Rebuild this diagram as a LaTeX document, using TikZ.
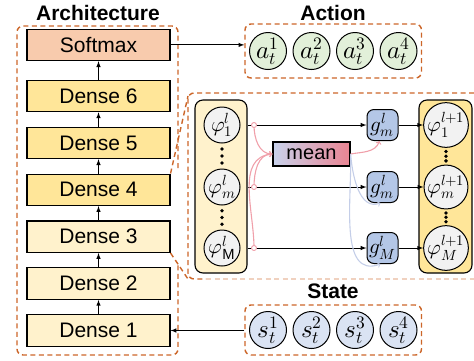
\documentclass[tikz,border=0pt]{standalone}
\usepackage{amsmath}
\usepackage{fontspec}
\usepackage{unicode-math}
\setmainfont{Liberation Sans}
\setmathfont{Latin Modern Math}
\usetikzlibrary{positioning,fit,calc}

\definecolor{dashorange}{RGB}{204,102,41}
\definecolor{softmaxfill}{RGB}{248,203,173}
\definecolor{densedark}{RGB}{255,230,153}
\definecolor{denselight}{RGB}{255,242,204}
\definecolor{actfill}{RGB}{226,240,217}
\definecolor{statefill}{RGB}{218,227,243}
\definecolor{phifill}{RGB}{242,242,242}
\definecolor{gfill}{RGB}{180,199,231}
\definecolor{meanblue}{RGB}{200,210,236}
\definecolor{meanred}{RGB}{234,132,146}
\definecolor{pinkline}{RGB}{240,160,170}
\definecolor{blueline}{RGB}{196,206,232}

\begin{document}
\begin{tikzpicture}[x=1pt,y=-1pt,
	every node/.style={inner sep=0pt},
	layer/.style={draw,line width=1.1pt,minimum width=143pt,minimum height=31.5pt,font=\fontsize{21}{24}\selectfont},
	title/.style={font=\fontsize{21}{24}\selectfont\bfseries},
	group/.style={draw=dashorange,dash pattern=on 5pt off 3.5pt,line width=1.4pt,rounded corners=6pt},
	zoomline/.style={draw=dashorange,dash pattern=on 5pt off 3.5pt,line width=1.4pt},
	token/.style={circle,draw,line width=1pt,minimum size=37pt,font=\fontsize{25}{28}\selectfont},
	feat/.style={circle,draw,line width=1pt,fill=phifill,minimum size=36pt,font=\fontsize{21}{24}\selectfont},
	gate/.style={draw,line width=1pt,fill=gfill,rounded corners=7pt,minimum size=31pt,font=\fontsize{21}{24}\selectfont},
	panel/.style={draw,line width=1.1pt,rounded corners=8pt,minimum height=173pt},
	flow/.style={-latex,line width=1pt},
	junc/.style={circle,draw=pinkline,fill=white,line width=0.9pt,minimum size=5pt},
	mix/.style={-to,line width=1.1pt}
	]
	\useasboundingbox (0,0) rectangle (474,360);

	\node[layer,fill=denselight] (dense1) at (98.5,330.5) {Dense 1};
	\node[layer,fill=denselight,above=14.3pt of dense1] (dense2) {Dense 2};
	\node[layer,fill=denselight,above=14.3pt of dense2] (dense3) {Dense 3};
	\node[layer,fill=densedark,above=14.3pt of dense3] (dense4) {Dense 4};
	\node[layer,fill=densedark,above=14.3pt of dense4] (dense5) {Dense 5};
	\node[layer,fill=densedark,above=14.3pt of dense5] (dense6) {Dense 6};
	\node[layer,fill=softmaxfill,above=18.5pt of dense6] (softmax) {Softmax};
	\foreach \a/\b in {dense1/dense2,dense2/dense3,dense3/dense4,dense4/dense5,dense5/dense6,dense6/softmax}
		\draw[flow] (\a) -- (\b);
	\node[title] (archtitle) at (98,13) {Architecture};
	\draw[zoomline,rounded corners=6pt] (178,168) |- (17,26) |- (178,355) -- (178,262);

	\node[token,fill=actfill] (a1) at (268,51) {$a_t^1$};
	\node[token,fill=actfill,right=5.5pt of a1] (a2) {$a_t^2$};
	\node[token,fill=actfill,right=5.5pt of a2] (a3) {$a_t^3$};
	\node[token,fill=actfill,right=5.5pt of a3] (a4) {$a_t^4$};
	\node[group,fit=(a1)(a4),inner xsep=4pt,inner ysep=8pt] (actbox) {};
	\node[title] (acttitle) at (333,13) {Action};
	\draw[flow] (softmax.east) -- (softmax.east -| actbox.west);

	\node[token,fill=statefill] (s1) at (268,330) {$s_t^1$};
	\node[token,fill=statefill,right=5.5pt of s1] (s2) {$s_t^2$};
	\node[token,fill=statefill,right=5.5pt of s2] (s3) {$s_t^3$};
	\node[token,fill=statefill,right=5.5pt of s3] (s4) {$s_t^4$};
	\node[group,fit=(s1)(s4),inner xsep=4pt,inner ysep=6pt] (statebox) {};
	\node[title] (statetitle) at (333,291) {State};
	\draw[flow] (dense1.east -| statebox.west) -- (dense1.east);

	\draw[zoomline,rounded corners=6pt] (474,93) -| (188,279) -- (206,279);
	\draw[zoomline,draw=dashorange!30] (206,279) -- (474,279);
	\draw[zoomline] (dense4.north east) -- (188,96);
	\draw[zoomline] (dense3.south east) -- (188,279);

	\node[panel,fill=denselight,minimum width=52pt] (inpanel) at (221,186.5) {};
	\node[panel,fill=densedark,minimum width=53pt] (outpanel) at (445.5,186.5) {};
	\node[feat] (phi1) at (222,125) {$\varphi_1^l$};
	\node[feat] (phim) at (222,187) {$\varphi_m^l$};
	\node[feat] (phiM) at (222,248) {$\varphi_{\mathrm{M}}^l$};
	\node[feat] (next1) at (446,125) {$\varphi_1^{l+1}$};
	\node[feat] (nextm) at (446,187) {$\varphi_m^{l+1}$};
	\node[feat] (nextM) at (446,248) {$\varphi_M^{l+1}$};
	\foreach \u/\v in {phi1/phim,phim/phiM,next1/nextm,nextm/nextM}
		\foreach \t in {0.22,0.5,0.78}
			\fill ($(\u.south)!\t!(\v.north)$) circle (1.9pt);

	\node[gate] (g1) at (382.5,125) {$g_m^l$};
	\node[gate] (gm) at (382.5,187) {$g_m^l$};
	\node[gate] (gM) at (382.5,248) {$g_M^l$};
	\node[draw,line width=1.1pt,left color=meanblue,right color=meanred,minimum width=77pt,minimum height=24pt,font=\fontsize{20}{22}\selectfont] (mean) at (311.5,154) {mean};

	\foreach \p/\g in {phi1/g1,phim/gm,phiM/gM}
		\draw[flow] (inpanel.east |- \p) -- (\g);
	\foreach \g/\n in {g1/next1,gm/nextm,gM/nextM}
		\draw[flow] (\g) -- (\n.west);

	\draw[mix,pinkline] (254,125) to[out=-90,in=180] (mean.west);
	\draw[mix,pinkline] (254,187) to[out=90,in=180] (mean.west);
	\draw[mix,pinkline] (254,248) to[out=90,in=185] (mean.west);
	\draw[mix,pinkline] (mean.east) to[out=10,in=-110] ([xshift=-3pt]g1.south);
	\draw[mix,blueline] (mean.east) to[out=-85,in=-160] ([xshift=-2pt]gm.south);
	\draw[mix,blueline] (mean.east) to[out=-88,in=-160] ([xshift=-2pt]gM.south);
	\node[junc] (j1) at (254,125) {};
	\node[junc] (jm) at (254,187) {};
	\node[junc] (jM) at (254,248) {};
\end{tikzpicture}
\end{document}
